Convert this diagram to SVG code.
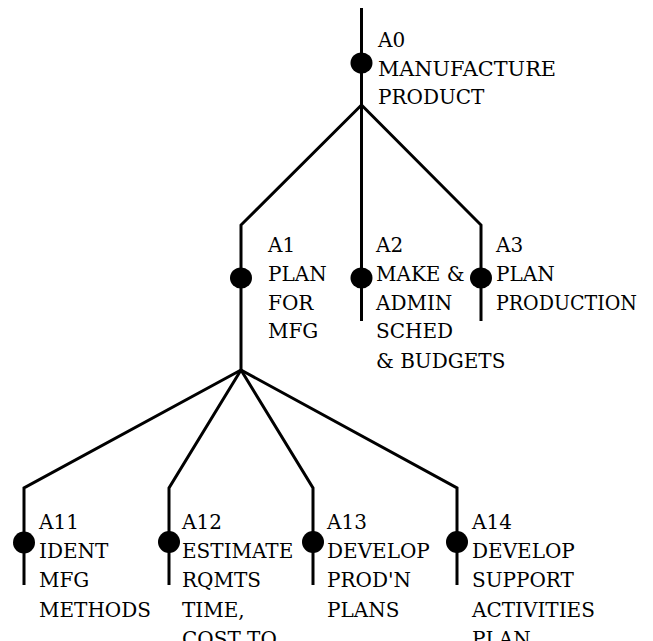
<svg xmlns="http://www.w3.org/2000/svg" width="653" height="641" viewBox="0 0 653 641">
<style>
.ln{stroke:#000;stroke-width:3;fill:none;stroke-linejoin:miter}
.dot{fill:#000}
.t{font-family:"DejaVu Serif","Liberation Serif",serif;font-size:20px;fill:#000}
</style>
<rect width="653" height="641" fill="#fff"/>
<g id="connectors">
<polyline class="ln" points="361.5,8 361.5,105"/>
<polyline class="ln" points="361.5,105 241,225 241,370"/>
<polyline class="ln" points="361.5,105 361.5,321"/>
<polyline class="ln" points="361.5,105 481,225 481,321"/>
<polyline class="ln" points="241,370 24,488 24,585"/>
<polyline class="ln" points="241,370 169,488 169,585"/>
<polyline class="ln" points="241,370 313,488 313,585"/>
<polyline class="ln" points="241,370 457,488 457,585"/>
</g>
<g id="A0" class="t">
<ellipse class="dot" cx="361.5" cy="63" rx="11" ry="10.5"/>
<text x="378" y="47">A0</text>
<text x="378" y="75.5" textLength="178" lengthAdjust="spacingAndGlyphs">MANUFACTURE</text>
<text x="378" y="104">PRODUCT</text>
</g>
<g id="A1" class="t">
<ellipse class="dot" cx="241" cy="278" rx="11" ry="10.5"/>
<text x="268" y="252">A1</text>
<text x="268" y="281">PLAN</text>
<text x="268" y="310">FOR</text>
<text x="268" y="338">MFG</text>
</g>
<g id="A2" class="t">
<ellipse class="dot" cx="361.5" cy="278" rx="11" ry="10.5"/>
<text x="376" y="252">A2</text>
<text x="376" y="281">MAKE &amp;</text>
<text x="376" y="310">ADMIN</text>
<text x="376" y="338">SCHED</text>
<text x="376" y="368">&amp; BUDGETS</text>
</g>
<g id="A3" class="t">
<ellipse class="dot" cx="481" cy="278" rx="11" ry="10.5"/>
<text x="496" y="252">A3</text>
<text x="496" y="281">PLAN</text>
<text x="496" y="310" textLength="141" lengthAdjust="spacingAndGlyphs">PRODUCTION</text>
</g>
<g id="A11" class="t">
<ellipse class="dot" cx="24" cy="542.5" rx="11" ry="11"/>
<text x="39" y="529">A11</text>
<text x="39" y="558">IDENT</text>
<text x="39" y="587">MFG</text>
<text x="39" y="617">METHODS</text>
</g>
<g id="A12" class="t">
<ellipse class="dot" cx="169" cy="542" rx="11" ry="11"/>
<text x="182" y="529">A12</text>
<text x="182" y="558">ESTIMATE</text>
<text x="182" y="587">RQMTS</text>
<text x="182" y="617">TIME,</text>
<text x="182" y="646">COST TO</text>
</g>
<g id="A13" class="t">
<ellipse class="dot" cx="313" cy="542" rx="11" ry="11"/>
<text x="327" y="529">A13</text>
<text x="327" y="558">DEVELOP</text>
<text x="327" y="587">PROD'N</text>
<text x="327" y="617">PLANS</text>
</g>
<g id="A14" class="t">
<ellipse class="dot" cx="457" cy="542" rx="11" ry="11"/>
<text x="472" y="529">A14</text>
<text x="472" y="558">DEVELOP</text>
<text x="472" y="587">SUPPORT</text>
<text x="472" y="617">ACTIVITIES</text>
<text x="472" y="646">PLAN</text>
</g>
</svg>
